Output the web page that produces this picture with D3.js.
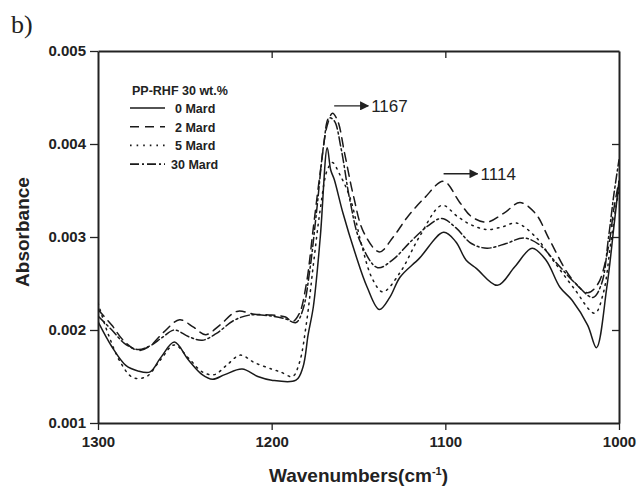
<!DOCTYPE html>
<html>
<head>
<meta charset="utf-8">
<script src="https://cdn.jsdelivr.net/npm/d3@7"></script>
<style>
  body { margin: 0; background: #fff; }
  svg { display: block; font-family: 'Liberation Sans', Arial, sans-serif; }
</style>
</head>
<body>
<div id="chart"></div>
<script>
// series: [wavenumber, absorbance]
var mard0 = [[1300,0.00209],[1292,0.00182],[1284,0.00162],[1277,0.00156],[1270,0.00155],[1264,0.00170],[1256,0.00187],[1248,0.00168],[1240,0.00152],[1234,0.00147],[1227,0.00152],[1217,0.00158],[1208,0.00150],[1200,0.00146],[1186,0.00146],[1182,0.00160],[1179,0.00195],[1176,0.00225],[1172,0.00300],[1168,0.00396],[1166,0.00372],[1164,0.00362],[1159,0.00326],[1152,0.00283],[1145,0.00246],[1138,0.00222],[1132,0.00235],[1126,0.00257],[1115,0.00277],[1101,0.00305],[1094,0.00295],[1088,0.00275],[1082,0.00266],[1070,0.00248],[1060,0.00268],[1050,0.00288],[1042,0.00275],[1034,0.00246],[1027,0.00232],[1018,0.00205],[1013,0.00181],[1007,0.00246],[1003,0.00310],[1000,0.00360]];
var mard2 = [[1300,0.00222],[1292,0.00205],[1285,0.00188],[1277,0.00178],[1270,0.00183],[1262,0.00198],[1253,0.00211],[1245,0.00203],[1238,0.00195],[1230,0.00205],[1220,0.00220],[1210,0.00217],[1200,0.00216],[1192,0.00214],[1188,0.00209],[1184,0.00218],[1180,0.00250],[1176,0.00310],[1172,0.00370],[1168,0.00420],[1165,0.00433],[1162,0.00425],[1158,0.00390],[1153,0.00345],[1147,0.00305],[1138,0.00284],[1130,0.00300],[1122,0.00321],[1112,0.00342],[1101,0.00360],[1092,0.00338],[1085,0.00322],[1076,0.00316],[1066,0.00326],[1057,0.00337],[1048,0.00325],[1040,0.00297],[1028,0.00257],[1018,0.00240],[1012,0.00250],[1006,0.00290],[1003,0.00330],[1000,0.00360]];
var mard5 = [[1300,0.00229],[1294,0.00195],[1287,0.00165],[1280,0.00149],[1272,0.00150],[1264,0.00168],[1256,0.00184],[1248,0.00170],[1240,0.00155],[1233,0.00152],[1226,0.00162],[1218,0.00173],[1210,0.00165],[1200,0.00158],[1195,0.00155],[1188,0.00150],[1184,0.00165],[1180,0.00207],[1176,0.00270],[1172,0.00330],[1168,0.00372],[1165,0.00380],[1161,0.00368],[1155,0.00343],[1148,0.00290],[1142,0.00255],[1136,0.00241],[1126,0.00262],[1115,0.00300],[1102,0.00334],[1093,0.00322],[1085,0.00313],[1076,0.00308],[1067,0.00311],[1059,0.00315],[1048,0.00300],[1038,0.00275],[1026,0.00245],[1014,0.00218],[1009,0.00240],[1005,0.00290],[1002,0.00330],[1000,0.00350]];
var mard30 = [[1300,0.00215],[1292,0.00200],[1285,0.00186],[1277,0.00179],[1270,0.00183],[1263,0.00192],[1256,0.00200],[1248,0.00193],[1240,0.00189],[1232,0.00196],[1222,0.00210],[1213,0.00216],[1200,0.00215],[1192,0.00212],[1186,0.00208],[1182,0.00222],[1178,0.00265],[1174,0.00330],[1170,0.00400],[1167,0.00428],[1164,0.00425],[1160,0.00395],[1155,0.00340],[1149,0.00295],[1139,0.00267],[1130,0.00276],[1120,0.00295],[1110,0.00312],[1102,0.00320],[1094,0.00310],[1085,0.00293],[1076,0.00288],[1065,0.00293],[1055,0.00299],[1046,0.00292],[1036,0.00272],[1025,0.00250],[1015,0.00235],[1010,0.00250],[1006,0.00300],[1003,0.00345],[1000,0.00383]];

var seriesNames = ['0 Mard', '2 Mard', '5 Mard', '30 Mard'];
var xTicks = [1300, 1200, 1100, 1000];
var yTicks = [0.001, 0.002, 0.003, 0.004, 0.005];
// peak annotations: [wavenumber at arrow start, absorbance, label]
var peaks = [[1164, 0.00441, '1167'], [1101, 0.00368, '1114']];

var W = 637, H = 488;
var margin = { top: 51, right: 18, bottom: 65, left: 98 },
  width = W - margin.left - margin.right,
  height = H - margin.top - margin.bottom;

var svg = d3.select('#chart').append('svg')
  .attr('width', W).attr('height', H);

var g = svg.append('g')
  .attr('transform', 'translate(' + margin.left + ',' + margin.top + ')');

var x = d3.scaleLinear().domain([1300, 1000]).range([0, width]);
var y = d3.scaleLinear().domain([0.001, 0.005]).range([height, 0]);

// axes
var xAxis = g.append('g').attr('transform', 'translate(0,' + height + ')')
  .call(d3.axisBottom(x).tickValues(xTicks).tickFormat(d3.format('d')).tickSize(7).tickSizeOuter(0).tickPadding(6));
var yAxis = g.append('g')
  .call(d3.axisLeft(y).tickValues(yTicks).tickFormat(d3.format('.3f')).tickSize(8).tickSizeOuter(0).tickPadding(4));
var topAxis = g.append('g')
  .call(d3.axisTop(x).tickValues([1200, 1100]).tickSize(-7).tickSizeOuter(0).tickFormat(''));
var rightAxis = g.append('g').attr('transform', 'translate(' + width + ',0)')
  .call(d3.axisRight(y).tickValues([0.002, 0.003, 0.004]).tickSize(-7).tickSizeOuter(0).tickFormat(''));

[xAxis, yAxis, topAxis, rightAxis].forEach(function (a) {
  a.selectAll('path.domain').attr('stroke', '#222').attr('stroke-width', 2);
  a.selectAll('.tick line').attr('stroke', '#222').attr('stroke-width', 1.3);
  a.selectAll('text').attr('fill', '#222').style('font-size', '15px').style('font-weight', 'bold')
    .style('font-family', "'Liberation Sans', Arial, sans-serif");
});

// curves
var line = d3.line()
  .x(function (d) { return x(d[0]); })
  .y(function (d) { return y(d[1]); })
  .curve(d3.curveCatmullRom.alpha(0.5));

var dashes = [null, '9,6', '1.6,5', '9,3,2,3'];
var allSeries = [mard0, mard2, mard5, mard30];

g.append('defs').append('clipPath').attr('id', 'clip')
  .append('rect').attr('width', width).attr('height', height);

g.append('g').attr('clip-path', 'url(#clip)')
  .selectAll('path')
  .data(allSeries)
  .enter()
  .append('path')
  .attr('d', line)
  .attr('fill', 'none')
  .attr('stroke', '#1a1a1a')
  .attr('stroke-width', 1.5)
  .attr('stroke-linecap', 'round')
  .attr('stroke-dasharray', function (d, i) { return dashes[i]; });

// legend
var legend = svg.append('g').attr('transform', 'translate(130,95)');
legend.append('text')
  .attr('x', 2).attr('y', 0)
  .style('font-size', '12.5px').style('font-weight', 'bold').attr('fill', '#222')
  .text('PP-RHF 30 wt.%');
var rows = legend.selectAll('g.row')
  .data(seriesNames)
  .enter()
  .append('g')
  .attr('class', 'row')
  .attr('transform', function (d, i) { return 'translate(0,' + (13 + i * 18.7) + ')'; });
rows.append('line')
  .attr('x1', 0).attr('x2', 35).attr('y1', 0).attr('y2', 0)
  .attr('stroke', '#1a1a1a').attr('stroke-width', 1.6)
  .attr('stroke-dasharray', function (d, i) { return dashes[i]; });
rows.append('text')
  .attr('x', function (d, i) { return i === 3 ? 41 : 45; })
  .attr('y', 5)
  .style('font-size', '12.5px').style('font-weight', 'bold').attr('fill', '#222')
  .text(function (d) { return d; });

// peak annotations
svg.append('defs').append('marker')
  .attr('id', 'arrow').attr('viewBox', '0 0 10 10')
  .attr('refX', 9).attr('refY', 5)
  .attr('markerWidth', 9).attr('markerHeight', 9)
  .attr('markerUnits', 'userSpaceOnUse')
  .attr('orient', 'auto')
  .append('path').attr('d', 'M0,0L10,5L0,10Z').attr('fill', '#222');

var ann = g.selectAll('g.ann').data(peaks).enter().append('g');
ann.append('line')
  .attr('x1', function (d) { return x(d[0]); })
  .attr('x2', function (d) { return x(d[0]) + 34; })
  .attr('y1', function (d) { return y(d[1]); })
  .attr('y2', function (d) { return y(d[1]); })
  .attr('stroke', '#222').attr('stroke-width', 1.3)
  .attr('marker-end', 'url(#arrow)');
ann.append('text')
  .attr('x', function (d) { return x(d[0]) + 37; })
  .attr('y', function (d) { return y(d[1]) + 6; })
  .style('font-size', '17px').attr('fill', '#222')
  .text(function (d) { return d[2]; });

// titles
svg.append('text')
  .attr('x', margin.left + width / 2).attr('y', 482)
  .attr('text-anchor', 'middle')
  .style('font-size', '19px').style('font-weight', 'bold').attr('fill', '#222')
  .html('Wavenumbers(cm<tspan dy="-7" font-size="11px">-1</tspan><tspan dy="7">)</tspan>');

svg.append('text')
  .attr('transform', 'translate(29,' + (margin.top + height / 2 - 5) + ') rotate(-90)')
  .attr('text-anchor', 'middle')
  .style('font-size', '19px').style('font-weight', 'bold').attr('fill', '#222')
  .text('Absorbance');

svg.append('text')
  .attr('x', 11).attr('y', 33)
  .style('font-family', "'Liberation Serif', 'Times New Roman', serif")
  .style('font-size', '26px').attr('fill', '#222')
  .text('b)');
</script>
</body>
</html>
